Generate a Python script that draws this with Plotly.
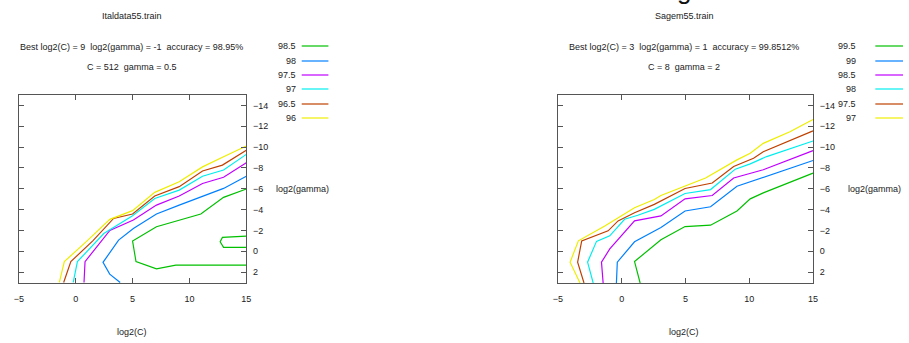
import plotly.graph_objects as go

W, H = 909, 343

# ---------------- data ----------------
left_title = "Italdata55.train"
left_best = "Best log2(C) = 9 \u00a0log2(gamma) = -1 \u00a0accuracy = 98.95%"
left_cg = "C = 512 \u00a0gamma = 0.5"
left_levels = ["98.5", "98", "97.5", "97", "96.5", "96"]
# contour polylines (log2C, log2gamma), one list of segments per level
left_96 = [([-1.44, -1.0, 1.0, 3.0, 5.0, 6.95, 9.1, 11.15, 13.0, 15.0],
            [3.0, 1.0, -1.0, -3.06, -3.9, -5.65, -6.67, -8.1, -9.07, -10.1])]
left_965 = [([-1.06, -0.43, 1.5, 3.33, 5.0, 6.95, 9.1, 11.15, 12.9, 15.0],
             [3.0, 1.0, -1.0, -3.15, -3.57, -5.3, -6.2, -7.7, -8.27, -9.7])]
left_97 = [([-0.22, 0.15, 2.47, 5.0, 6.95, 9.1, 11.15, 13.0, 15.0],
            [3.0, 1.0, -1.7, -3.4, -5.07, -5.87, -7.2, -7.8, -9.3])]
left_975 = [([0.73, 0.82, 3.0, 5.07, 7.1, 9.1, 11.15, 13.0, 15.0],
             [3.0, 1.0, -2.0, -3.0, -4.43, -5.3, -6.5, -7.1, -8.5])]
left_98 = [([3.91, 2.99, 2.4, 3.77, 5.07, 7.1, 9.1, 11.15, 13.0, 15.0],
            [3.0, 2.2, 1.07, -1.07, -2.19, -3.57, -4.43, -5.3, -6.03, -7.2])]
left_985 = [([15.0, 13.0, 11.0, 9.1, 7.1, 5.0, 5.3, 7.1, 8.8, 15.0],
             [-5.97, -5.17, -3.57, -3.0, -2.35, -0.98, 1.0, 1.7, 1.33, 1.33]),
            ([15.0, 12.9, 12.7, 13.0, 15.0],
             [-1.46, -1.33, -0.91, -0.37, -0.37])]
left_lines = [left_985, left_98, left_975, left_97, left_965, left_96]

right_title = "Sagem55.train"
right_best = "Best log2(C) = 3 \u00a0log2(gamma) = 1 \u00a0accuracy = 99.8512%"
right_cg = "C = 8 \u00a0gamma = 2"
right_levels = ["99.5", "99", "98.5", "98", "97.5", "97"]
right_97 = [([-3.26, -4.04, -3.39, -1.32, 1.01, 2.56, 3.08, 4.97, 6.58, 9.04, 10.08, 11.1, 13.19, 15.0],
             [3.05, 1.05, -1.0, -2.43, -4.18, -4.97, -5.35, -6.24, -7.03, -8.77, -9.41, -10.36, -11.47, -12.64])]
right_975 = [([-2.95, -3.45, -3.13, -1.06, -0.28, 1.01, 2.56, 3.86, 4.97, 7.1, 8.78, 10.34, 11.1, 15.0],
              [3.05, 1.05, -1.0, -1.96, -2.91, -3.7, -4.5, -5.35, -6.02, -6.55, -8.14, -8.93, -9.56, -11.56])]
right_98 = [([-2.23, -2.67, -1.97, -0.93, 0.23, 1.27, 2.56, 4.97, 6.97, 8.91, 10.08, 11.37, 15.0],
             [3.05, 1.05, -0.95, -1.48, -3.07, -3.45, -4.02, -5.54, -5.92, -7.88, -8.39, -9.09, -10.58])]
right_985 = [([-1.45, -1.58, -0.93, 1.01, 3.08, 4.97, 7.1, 8.78, 11.1, 15.0],
              [3.05, 1.05, -0.22, -2.91, -3.39, -5.03, -5.35, -7.03, -7.82, -9.66])]
right_99 = [([-0.41, -0.34, 1.01, 3.08, 4.97, 6.97, 9.04, 11.1, 15.0],
             [3.05, 1.05, -0.91, -2.28, -3.86, -4.27, -6.24, -7.12, -8.71])]
right_995 = [([1.45, 1.01, 3.08, 4.97, 6.97, 9.04, 10.08, 11.1, 15.0],
              [3.05, 0.99, -1.1, -2.37, -2.5, -3.86, -5.03, -5.6, -7.5])]
right_lines = [right_995, right_99, right_985, right_98, right_975, right_97]

x_ticks = [-5, 0, 5, 10, 15]
y_ticks = [-14, -12, -10, -8, -6, -4, -2, 0, 2]
x_title = "log2(C)"
y_title = "log2(gamma)"
heading = "Using the best values found"

# ---------------- style ----------------
colors = ["#00c000", "#0080ff", "#c000ff", "#00eeee", "#c04000", "#eeee00"]
FONT = "Liberation Sans, Arial, sans-serif"
FS = 9
TXT = "#222222"
AX = "#555555"


def px(x):
    return x / W


def py(y):
    return 1 - y / H


fig = go.Figure()

panels = [
    dict(lines=left_lines, levels=left_levels, title=left_title, best=left_best, cg=left_cg,
         x0=14, x1=244, cx=128, lab_x=296, line_x0=300, line_x1=327, ytit_x=301,
         xa="x", ya="y", xkey="xaxis", ykey="yaxis"),
    dict(lines=right_lines, levels=right_levels, title=right_title, best=right_best, cg=right_cg,
         x0=559, x1=817, cx=687, lab_x=862, line_x0=880, line_x1=908, ytit_x=879,
         xa="x2", ya="y2", xkey="xaxis2", ykey="yaxis2"),
]

y_top, y_bot = 95, 283
legend_rows = [46, 61, 75, 89, 104, 118]

annotations = []
shapes = []
for p in panels:
    for lvl, segs, col in zip(p["levels"], p["lines"], colors):
        for sx, sy in segs:
            fig.add_trace(go.Scatter(x=sx, y=sy, mode="lines", xaxis=p["xa"], yaxis=p["ya"],
                                     line=dict(color=col, width=1.2), showlegend=False,
                                     hoverinfo="skip", name=lvl))
    axis_common = dict(showgrid=False, zeroline=False, showline=True, linecolor=AX, linewidth=1,
                       mirror="ticks", ticks="inside", ticklen=5, tickcolor=AX, tickwidth=1,
                       tickfont=dict(family=FONT, size=FS, color=TXT))
    fig.update_layout({
        p["xkey"]: dict(domain=[px(p["x0"]), px(p["x1"])], range=[-5, 15], tickvals=x_ticks,
                        anchor=p["ya"], ticklabelstandoff=7, **axis_common),
        p["ykey"]: dict(domain=[py(y_bot), py(y_top)], range=[3.05, -15], tickvals=y_ticks,
                        anchor=p["xa"], side="right", ticklabelstandoff=4, **axis_common),
    })
    # titles
    annotations.append(dict(x=px(p["cx"]), y=py(16), text=p["title"]))
    annotations.append(dict(x=px(p["cx"]), y=py(47), text=p["best"]))
    annotations.append(dict(x=px(p["cx"]), y=py(67), text=p["cg"]))
    annotations.append(dict(x=px(p["cx"]), y=py(332), text=x_title))
    annotations.append(dict(x=px(p["ytit_x"]), y=py(189), text=y_title))
    # legend
    for lvl, col, ry in zip(p["levels"], colors, legend_rows):
        annotations.append(dict(x=px(p["lab_x"]), y=py(ry), text=lvl, xanchor="right"))
        shapes.append(dict(type="line", xref="paper", yref="paper",
                           x0=px(p["line_x0"]), x1=px(p["line_x1"]), y0=py(ry), y1=py(ry),
                           line=dict(color=col, width=1.2)))

for a in annotations:
    a.setdefault("xanchor", "center")
    a.update(xref="paper", yref="paper", yanchor="middle", showarrow=False,
             font=dict(family=FONT, size=FS, color=TXT))

# large slide heading, mostly cut off at the top of the picture
annotations.append(dict(x=px(625), y=py(7), xref="paper", yref="paper", xanchor="left",
                        yanchor="bottom", showarrow=False, text=heading,
                        font=dict(family=FONT, size=26, color="#111111")))

fig.update_layout(width=W, height=H, margin=dict(l=0, r=0, t=0, b=0),
                  paper_bgcolor="white", plot_bgcolor="white",
                  annotations=annotations, shapes=shapes, showlegend=False)

fig.write_html("out.html", config={"displayModeBar": False},
               post_script="document.body.style.margin='0';document.body.style.padding='0';"
                           "document.documentElement.style.overflow='hidden';")
